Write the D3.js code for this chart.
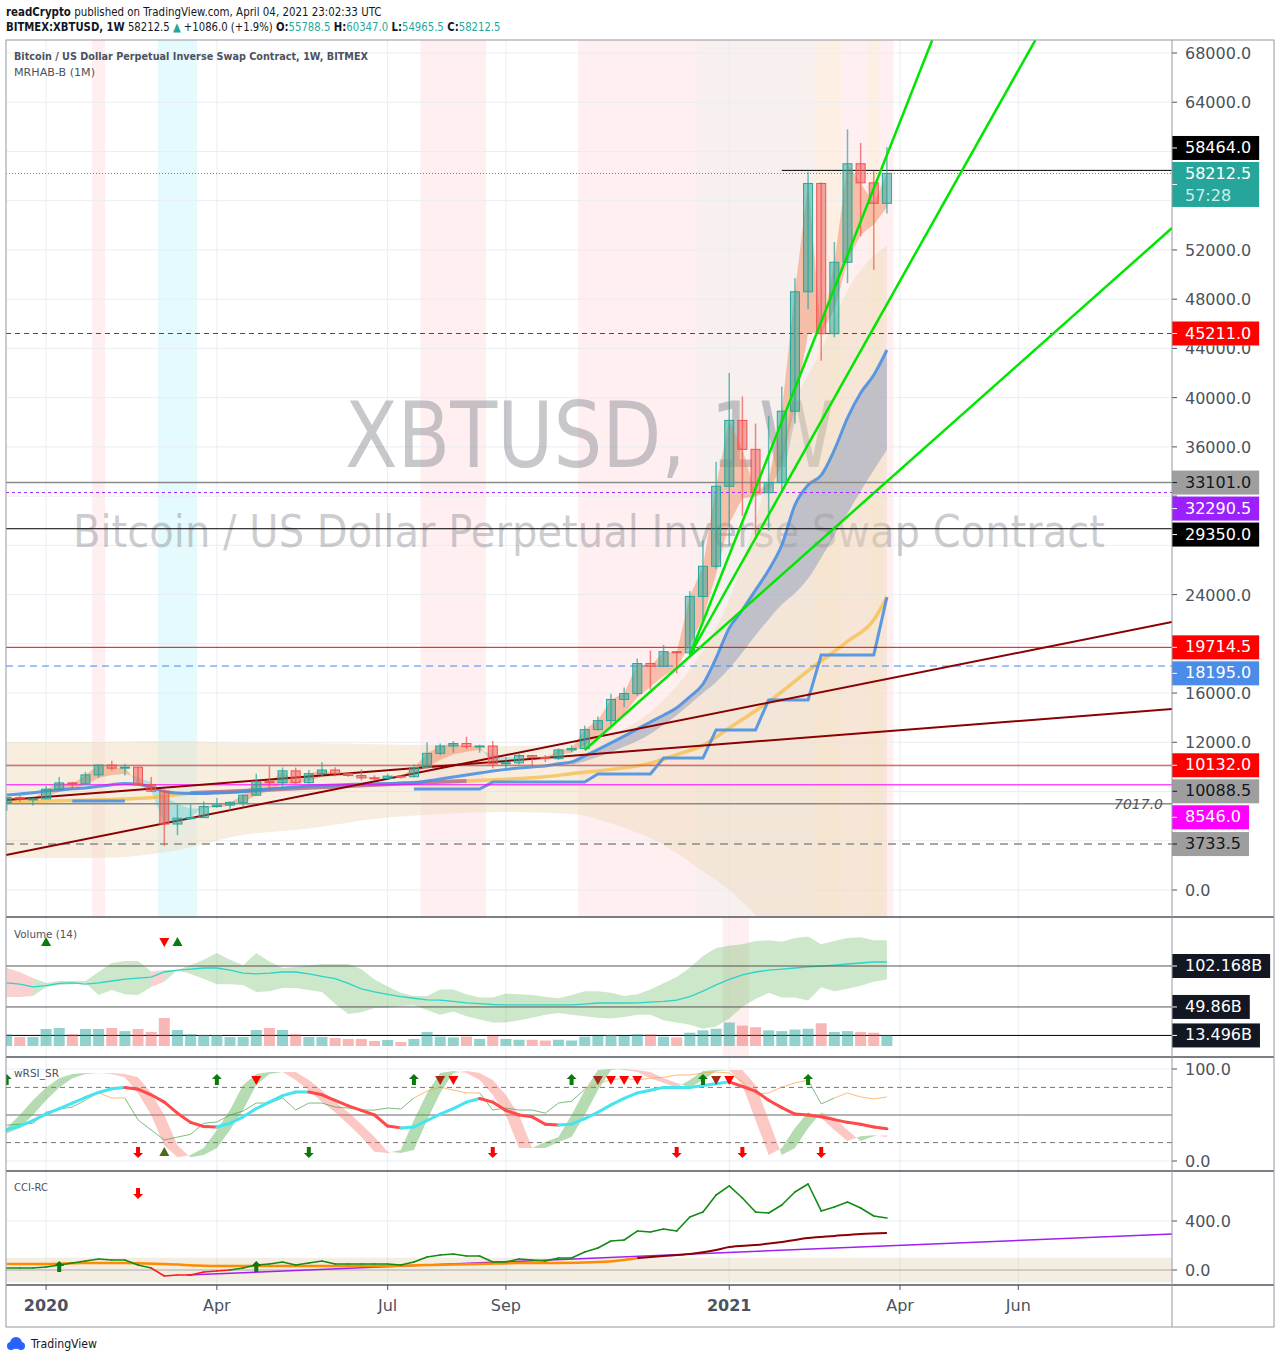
<!DOCTYPE html>
<html><head><meta charset="utf-8">
<script src="https://cdn.jsdelivr.net/npm/d3@7"></script>
<style>
body{margin:0;background:#fff}
svg text{font-family:'DejaVu Sans',sans-serif}
</style></head>
<body><svg id="c" width="1280" height="1361"></svg>
<script>
// ---------------- DATA ----------------
const firstBarDate = '2019-12-16';          // weekly bars, Monday open
const firstIdx = -3;                         // bar index relative to 2020-01-06
const open = [7100,7510,7390,
 7400,8190,8700,8620,9350,10150,9900,9980,8550,8030,
 5360,5830,5880,6780,6900,7120,7700,8800,8720,9680,
 8720,9450,9750,9450,9300,9110,9070,9250,9200,9950,
 11100,11700,11900,11650,11700,10250,10330,10920,10780,10670,
 11380,11500,13030,13760,15480,15960,18400,18180,19360,19275,
 23850,26300,32800,38150,35800,32280,33100,38900,48600,57400,
 45200,51000,59000,57450,55788.5];
const high = [7520,7700,7500,
 8450,9190,8780,9600,10200,10500,10250,10000,9190,8180,
 6950,6950,7200,7470,7200,7750,9450,10050,9950,9950,
 9740,10400,9980,9580,9800,9320,9450,9300,10200,12000,
 11900,12100,12450,11800,12100,10800,11100,10950,10950,11500,
 11750,13350,14100,15950,16450,18800,19450,19900,19420,24300,
 28400,34800,42000,40100,37900,38500,40900,49700,58350,57500,
 52650,61800,60700,58400,60347];
const low = [6430,7150,6860,
 7380,8100,8250,8550,9120,9700,9300,8450,8000,3600,
 4450,5700,5850,6680,6450,6780,7680,8100,8200,8630,
 8650,9200,9250,9200,8900,8950,9050,9050,9150,9900,
 10950,11150,11450,11150,9900,9900,10200,10150,10400,10550,
 11200,11400,12950,13300,14850,15800,16300,18100,17600,19000,
 21900,26100,28000,30400,28800,29200,32300,37900,47200,43000,
 44900,49300,53100,50400,54965.5];
const close = [7510,7390,7400,
 8190,8700,8620,9350,10150,9900,9980,8550,8030,5360,
 5830,5880,6780,6900,7120,7700,8800,8720,9680,8720,
 9450,9750,9450,9300,9110,9070,9250,9200,9950,11100,
 11700,11900,11650,11700,10250,10330,10920,10780,10670,11380,
 11500,13030,13760,15480,15960,18400,18180,19360,19275,23850,
 26300,32800,38150,35800,32280,33100,38900,48600,57400,45200,
 51000,59000,57450,55788.5,58212.5];
const volumeB = [15,11.5,11.5,
 21.7,23,15,21.7,21.7,23,19,21.7,18,35.8,
 20.4,15,14,14,11.5,11.5,20.4,23,20.4,15,
 11.5,11.5,10.2,9,9,6.4,7.7,5,9,18,
 12,11,12,9,13,9,8,8,7,8,
 7,12,13,14,13,15,15,12,11,17,
 20,22,30,26,24,20,19,21,22,29,
 18,19,18,17,13.496];
// fast average used by the MRHAB ribbon
const emaFast = [7200,7300,7330,
 7600,7950,8150,8550,9100,9350,9450,9150,8750,7600,
 7000,6600,6650,6730,6850,7130,7700,8050,8600,8650,
 8900,9180,9270,9280,9220,9170,9200,9200,9450,10000,
 10570,11020,11230,11390,11010,10780,10830,10810,10760,10970,
 11150,11780,12440,13450,14290,15660,16500,17380,18020,19960,
 22070,25650,29800,31800,31960,32340,34530,39200,45260,45240,
 47160,51100,53220,54060,55440];
const blueMA = [7720,7800,7900,
 8040,8130,8220,8290,8420,8560,8650,8600,8350,8000,
 7880,7850,7850,7880,7930,7990,8120,8200,8290,8370,
 8450,8500,8530,8570,8600,8620,8640,8670,8700,8850,
 9020,9180,9340,9500,9660,9800,9910,10000,10080,10250,
 10400,10900,11400,11950,12500,13070,13650,14200,14800,15700,
 16735,18848,21285,22748,24373,26000,28030,31280,32900,33700,
 35750,38350,40380,41840,43870];
const blueLowerIdx = [40,41,42,43,44,45,46,47,48,49,50,51,52,53,54,55,56,57,58,59,60,61,62,63,64];
const blueLower = [10150,10450,10800,11200,11650,12100,12700,13400,14200,15100,16000,16900,18000,19300,20700,22000,23200,24100,25300,27000,28800,30600,32400,34100,35750];
const goldIdx = [-3,0,3,6,9,11,14,17,20,23,26,29,32,35,38,40,43,46,48,50,52,55,58,61,63,64];
const goldVal = [7150,7230,7300,7400,7600,7880,8000,8150,8300,8450,8600,8750,8850,9000,9200,9450,9800,10300,11000,11750,13150,15300,17800,20200,21935,23800];
const goldPurpleRange = [11,32];
const stepSegments = [[2,6,7230],[28,33,8200],[34,41,8770],[42,46,9420],[47,50,10720],[51,54,13000],[55,58,15440],[59,63,19090],[64,64,23800]];
const bbIdx = [-3,4,10,15,20,25,30,35,40,43,47,50,52,54,56,59,61,64];
const bbUpper = [12020,12020,12100,11950,11940,11850,11780,11700,11860,12590,15440,19500,23560,30050,37360,43860,48730,52390];
const bbLower = [2600,2600,3250,4460,5000,5770,6170,6340,6170,5400,3650,1500,0,-2000,-4000,-7000,-9000,-12000];
const trendLines = [[[-3.05,2843],[85.7,21773]],[[-3.05,7312],[85.7,14705]]];
const fanLines = [[[41.0,11374],[85.7,53781]],[[49.0,19092],[75.3,69055]],[[49.0,19092],[67.45,69055]]];
// background highlight bands [fromBar, toBar, kind]
const bgBands = [[4,4,'bear'],[9,11,'bull'],[29,33,'bear'],[41,49,'bear'],[50,58,'bear2'],[59,60,'warm'],[61,62,'bear'],[63,63,'warm'],[64,64,'bear']];
const volBgBands = [[52,53,'bear']];
// horizontal levels: price, colour, dash, startBar, label bg, label fg
const levelPrice = [58464.0,45211.0,33101.0,32290.5,29350.0,19714.5,18195.0,10132.0,10088.5,8546.0,3733.5];
const levelColor = ['#000000','#ff0000','#8a8a8a','#9c27ff','#000000','#ff0000','#4a86e8','#ff0000','#9e9e9e','#ff00ff','#8a8a8a'];
const levelDash  = [null,'5,4',null,'3,3',null,null,'7,5',null,null,null,'8,6'];
const levelStart = [56,null,null,null,null,null,null,null,null,null,null];
const levelLabelBg = ['#000000','#ff0000','#9e9e9e','#9b1fff','#000000','#ff0000','#4a8ce8','#ff0000','#9e9e9e','#ff00ff','#9e9e9e'];
const levelLabelFg = ['#fff','#fff','#131722','#fff','#fff','#fff','#fff','#fff','#131722','#fff','#131722'];
const plainLevel = 7017.0;
const priceTicks = d3.range(0,68001,4000);
const lastPrice = 58212.5, countdown = '57:28';
// volume pane
const volCyan = [80.5,79,75.4,
 77,80,80.5,79,80.5,83,85.5,86.8,88,94.5,
 97,98.3,99.6,99.6,97,93,92,93,94.5,94.5,
 92,89,86,80,73,69,66,63,61,59,
 58.7,57,55,54,53,52.4,52.4,52.4,52.4,52.4,
 52.4,53.6,54.9,54.9,54.9,55,56,57,58.7,63,
 70,78,85,90.7,94.5,97,98.3,99.6,101,102.1,
 103.4,104.7,106,107.3,107.3];
const volHi = [99.6,94.5,87,
 80.5,83,83,83,94.5,106,108.6,108.6,95,97,
 97,103,110,118.8,110,103,118.8,108,99.6,101,
 103,104.7,104.7,104.7,98,85,76,68,64,64,
 72,72,66,62,62,67,66,65,63,61,
 65,70,70,68,64,66,72,80,88,100,
 115,125,128,130,134,135,133,138,140,130,
 134,138,139,135,135];
const volLo = [62.6,62.6,63.9,
 75.4,78,79,80.5,65,71.5,66,65,75.4,82,
 97,92,86,79,79,78,69,70,74,74,
 71.5,69,54,40.9,43,48.5,49,51,52,46,
 40,44,38,34,30,30,33,36,40,42,
 40,38,36,35,37,40,40,33,30,27,
 22,25,35,50,60,68,62,62,58,75,
 70,73,77,82,85];
const volBearBars = [-3,-2,-1,8,9];
const volLevels = [102.168,49.86,13.496];
const volLevelText = ['102.168B','49.86B','13.496B'];
const volMarkers = [[0,'triUp','#0b7a0b'],[9,'triDown','#ff0000'],[10,'triUp','#0b7a0b']];
// wRSI_SR pane
const rsiMain = [34,38,44,
 51,57,63,69,74.5,78.5,80,78,72,64,
 52,42,37.5,37,41,48,57,64,71,75,
 75,72,66,60,55,50,38,36,37,44,
 51,57,64,68,64,55,50,48,40,39,
 40,46,53,61,68,74,77,80,80,80,
 82,84,86,81,76,66,58,51,50,48,
 45,42,40,37,35];
const rsiThin = [39,40,41,
 53,56.5,58.7,66,74,68.5,68.5,44.6,33.7,22.8,
 26,29,41,42.4,50,54.3,63,63,68.5,55.4,
 63,63,58.7,57.6,55.4,55.4,57.6,56.5,68.5,76,
 80.4,77,74,74,55.4,57.6,55.4,55.4,52,63,
 65,78,84.8,88,90,88,90,91,93.5,93.5,
 95.7,96.7,95.7,86,72.8,74,80.4,84.8,88,62,
 68.5,74,69.6,67.4,69.6];
const rsiRibbon = [36,50,66,
 80,90,94.5,95.6,95.6,94.5,91,74,50,17,
 4,6.5,14,33.7,55.4,82.6,94.5,96.7,96.7,88,
 77,64,53,40,26,10,8.7,12,44.6,74,
 95.6,97.8,95.6,88,71.7,50,14,14,20.6,26,
 50,77,99,100,99,96.7,90,84.8,80,88,
 97.8,99,99,82.6,44.6,6.5,14,36,53,46.7,
 33.7,21.7,27,28,26];
const rsiLevels = [80,50,20];
const rsiTopMarkers = [[-3,'arrowUp','#0b7a0b'],[13,'arrowUp','#0b7a0b'],[16,'triDown','#ff0000'],[28,'arrowUp','#0b7a0b'],[30,'triDown','#a52a1a'],[31,'triDown','#ff0000'],[40,'arrowUp','#0b7a0b'],[42,'triDown','#a52a1a'],[43,'triDown','#ff0000'],[44,'triDown','#ff0000'],[45,'triDown','#ff0000'],[50,'arrowUp','#0b7a0b'],[51,'triDown','#a52a1a'],[52,'triDown','#ff0000'],[58,'arrowUp','#0b7a0b']];
const rsiBottomMarkers = [[7,'arrowDown','#ff0000'],[9,'triUp','#4b6b1f'],[20,'arrowDown','#0b7a0b'],[34,'arrowDown','#ff0000'],[48,'arrowDown','#ff0000'],[53,'arrowDown','#ff0000'],[59,'arrowDown','#ff0000']];
// CCI-RC pane
const cciLine = [16,16,16,
 24,41,57,73,90,82,82,41,16,-49,
 -41,-41,-16,-8,0,16,41,49,65,41,
 57,73,49,49,49,49,49,41,65,106,
 122,131,114,114,65,65,90,82,73,98,
 98,147,180,237,245,318,310,335,318,433,
 473,612,686,588,473,465,531,637,702,482,
 514,555,506,441,424];
const cciMAIdx = [-3,0,3,6,9,13,17,21,25,29,33,36,39,42,44,45,47,49,51,52,54,56,58,60,62,64];
const cciMAVal = [49,49,57,57,49,33,33,33,33,41,49,57,57,65,82,98,114,131,163,188,204,229,261,278,294,302];
const cciMAColorSwitch = 45;
const cciTrend = [[10.73,-41],[85.7,294]];
const cciBand = [-100,100];
const cciMarkers = [[7,'arrowDown','#ff0000','top'],[1,'arrowUp','#0b7a0b','line'],[16,'arrowUp','#0b7a0b','line']];
// time axis
const tickDates = ['2020-01-06','2020-04-06','2020-07-06','2020-09-07','2021-01-04','2021-04-05','2021-06-07'];
const tickLabels = ['2020','Apr','Jul','Sep','2021','Apr','Jun'];
const tickIsYear = [true,false,false,false,true,false,false];

// ---------------- LAYOUT ----------------
const svg = d3.select('#c');
const L = 6, R = 1172, RA = 1274, TOP = 40, BOT = 1327;
const panes = {main:[40,917], vol:[917,1057], rsi:[1057,1171], cci:[1171,1285]};
const N = close.length;
const bars = d3.range(N).map(k => firstIdx + k);
const x = d3.scaleLinear().domain([-3.05, 85.7]).range([L, R]);
const yP = d3.scaleLinear().domain([0, 68000]).range([890, 53]);
const yV = d3.scaleLinear().domain([0, 102.168]).range([1046, 966]);
const yR = d3.scaleLinear().domain([0, 100]).range([1161, 1069]);
const yC = d3.scaleLinear().domain([0, 400]).range([1270, 1221]);
const TXT = '#4c525e', GRID = '#e8eef3';
const weekMs = 7*864e5, base = Date.parse('2020-01-06');
const tickIdx = tickDates.map(d => Math.round((Date.parse(d) - base)/weekMs));
const hf = 'Liberation Sans, sans-serif';

svg.append('rect').attr('width',1280).attr('height',1361).attr('fill','#fff');
const defs = svg.append('defs');
Object.entries(panes).forEach(([k,[a,b]]) => {
  defs.append('clipPath').attr('id','clip-'+k).append('rect').attr('x',L).attr('y',a).attr('width',R-L).attr('height',b-a);
});
function pane(k){ return svg.append('g').attr('clip-path',`url(#clip-${k})`); }

function fillBetween(g, xs, a, b, ys, colorFn){
  const runs = []; let run = null;
  for (let i=0;i<xs.length;i++){
    if (a[i]==null || b[i]==null){ if(run){runs.push(run); run=null;} continue; }
    const s = (a[i]-b[i]) >= 0 ? 1 : -1;
    if (!run){ run = {s, A:[[xs[i],a[i]]], B:[[xs[i],b[i]]]}; continue; }
    if (s === run.s){ run.A.push([xs[i],a[i]]); run.B.push([xs[i],b[i]]); }
    else {
      const j=i-1, d0=a[j]-b[j], d1=a[i]-b[i], t=d0/(d0-d1);
      const xc = xs[j]+t*(xs[i]-xs[j]), vc = a[j]+t*(a[i]-a[j]);
      run.A.push([xc,vc]); run.B.push([xc,vc]); runs.push(run);
      run = {s, A:[[xc,vc],[xs[i],a[i]]], B:[[xc,vc],[xs[i],b[i]]]};
    }
  }
  if (run) runs.push(run);
  runs.forEach(r => {
    const pts = r.A.concat(r.B.slice().reverse());
    g.append('path').attr('d','M'+pts.map(p=>x(p[0]).toFixed(1)+','+ys(p[1]).toFixed(1)).join('L')+'Z')
      .attr('fill', colorFn(r.s));
  });
}
function drawMarker(g, type, cx, cy, color){
  let d;
  if (type==='triDown') d=`M${cx-5},${cy-4}L${cx+5},${cy-4}L${cx},${cy+5}Z`;
  else if (type==='triUp') d=`M${cx-5},${cy+4}L${cx+5},${cy+4}L${cx},${cy-5}Z`;
  else if (type==='arrowUp') d=`M${cx},${cy-6}L${cx+5},${cy-1}L${cx+2},${cy-1}L${cx+2},${cy+5}L${cx-2},${cy+5}L${cx-2},${cy-1}L${cx-5},${cy-1}Z`;
  else d=`M${cx},${cy+6}L${cx+5},${cy+1}L${cx+2},${cy+1}L${cx+2},${cy-5}L${cx-2},${cy-5}L${cx-2},${cy+1}L${cx-5},${cy+1}Z`;
  g.append('path').attr('d',d).attr('fill',color);
}
function vGrid(g, a, b){
  tickIdx.forEach(t => g.append('line').attr('x1',x(t)).attr('x2',x(t)).attr('y1',a).attr('y2',b).attr('stroke',GRID).attr('stroke-width',1));
}
function legend(g, y, txt, len, bold){
  g.append('text').attr('x',14).attr('y',y).attr('font-size',11).attr('font-family',hf).attr('fill',TXT)
    .attr('font-weight', bold?'bold':'normal').attr('textLength',len).attr('lengthAdjust','spacingAndGlyphs').text(txt);
}

// ---------------- MAIN PANE ----------------
const gm = pane('main');
const bandColor = {bear:'rgba(255,205,210,0.33)', bear2:'rgba(235,205,205,0.33)', bull:'rgba(180,240,245,0.35)', warm:'rgba(250,215,185,0.4)'};
bgBands.forEach(([f,t,k]) => gm.append('rect').attr('x',x(f-0.5)).attr('width',x(t+0.5)-x(f-0.5)).attr('y',40).attr('height',877).attr('fill',bandColor[k]));
priceTicks.forEach(p => gm.append('line').attr('x1',L).attr('x2',R).attr('y1',yP(p)).attr('y2',yP(p)).attr('stroke',GRID));
vGrid(gm, 40, 917);
gm.append('text').attr('x',590).attr('y',467).attr('text-anchor','middle').attr('font-size',90)
  .attr('textLength',490).attr('lengthAdjust','spacingAndGlyphs').attr('fill','rgba(120,123,134,0.42)').text('XBTUSD, 1W');
gm.append('text').attr('x',589).attr('y',547).attr('text-anchor','middle').attr('font-size',44)
  .attr('textLength',1032).attr('lengthAdjust','spacingAndGlyphs').attr('fill','rgba(120,123,134,0.38)').text('Bitcoin / US Dollar Perpetual Inverse Swap Contract');
gm.append('path').datum(bbIdx.map((d,i)=>({i:d,u:bbUpper[i],l:bbLower[i]})))
  .attr('d', d3.area().x(d=>x(d.i)).y0(d=>yP(d.l)).y1(d=>yP(d.u)).curve(d3.curveMonotoneX))
  .attr('fill','rgba(236,214,180,0.42)');
gm.append('path').datum(blueLowerIdx.map((d,i)=>({i:d,u:blueMA[d-firstIdx],l:blueLower[i]})))
  .attr('d', d3.area().x(d=>x(d.i)).y0(d=>yP(d.l)).y1(d=>yP(d.u)).curve(d3.curveMonotoneX))
  .attr('fill','rgba(80,115,170,0.32)');
fillBetween(gm, bars, close, emaFast, yP, s => s>0 ? 'rgba(240,130,85,0.45)' : 'rgba(100,210,225,0.45)');
const goldPts = goldIdx.map((d,i)=>[d,goldVal[i]]);
const lineP = d3.line().x(d=>x(d[0])).y(d=>yP(d[1])).curve(d3.curveMonotoneX);
gm.append('path').attr('d',lineP(goldPts)).attr('fill','none').attr('stroke','rgba(246,190,70,0.75)').attr('stroke-width',3.5);
gm.append('path').attr('d',lineP(goldPts.filter(p=>p[0]>=goldPurpleRange[0]&&p[0]<=goldPurpleRange[1]))).attr('fill','none').attr('stroke','rgba(150,80,170,0.6)').attr('stroke-width',4);
const stepVals = bars.map(()=>null);
stepSegments.forEach(([a,b,v]) => { for(let i=a;i<=b;i++) stepVals[i-firstIdx]=v; });
gm.append('path').attr('d', d3.line().defined(d=>d[1]!=null).x(d=>x(d[0])).y(d=>yP(d[1]))(bars.map((b,k)=>[b,stepVals[k]])))
  .attr('fill','none').attr('stroke','#4a90e2').attr('stroke-width',3).attr('stroke-opacity',0.9);
gm.append('path').attr('d', lineP(bars.map((b,k)=>[b,blueMA[k]]))).attr('fill','none').attr('stroke','#4a90e2').attr('stroke-width',3).attr('stroke-opacity',0.9);
levelPrice.forEach((p,i) => {
  const x1 = levelStart[i]==null ? L : x(levelStart[i]);
  gm.append('line').attr('x1',x1).attr('x2',R).attr('y1',yP(p)).attr('y2',yP(p)).attr('stroke',levelColor[i])
    .attr('stroke-width', levelColor[i]==='#8a8a8a'?1.5:1).attr('stroke-dasharray',levelDash[i]);
});
gm.append('line').attr('x1',L).attr('x2',R).attr('y1',yP(plainLevel)).attr('y2',yP(plainLevel)).attr('stroke','#8a8a8a').attr('stroke-width',1.5);
gm.append('text').attr('x',1163).attr('y',yP(plainLevel)+5).attr('text-anchor','end').attr('font-size',14).attr('font-style','italic').attr('fill','#555').text(d3.format('.1f')(plainLevel));
gm.append('line').attr('x1',L).attr('x2',R).attr('y1',yP(lastPrice)).attr('y2',yP(lastPrice)).attr('stroke','#26a69a').attr('stroke-dasharray','1,2');
trendLines.forEach(t => gm.append('line').attr('x1',x(t[0][0])).attr('y1',yP(t[0][1])).attr('x2',x(t[1][0])).attr('y2',yP(t[1][1])).attr('stroke','#8b0000').attr('stroke-width',2));
bars.forEach((b,k) => {
  const up = close[k] >= open[k];
  const col = up ? '#26a69a' : '#ef5350';
  const fill = up ? 'rgba(38,166,154,0.5)' : 'rgba(239,83,80,0.5)';
  const cx = x(b);
  gm.append('line').attr('x1',cx).attr('x2',cx).attr('y1',yP(high[k])).attr('y2',yP(low[k])).attr('stroke',col).attr('stroke-opacity',0.7).attr('stroke-width',1.5);
  const yt = yP(Math.max(open[k],close[k])), yb = yP(Math.min(open[k],close[k]));
  gm.append('rect').attr('x',cx-4.5).attr('width',9).attr('y',yt).attr('height',Math.max(1,yb-yt)).attr('fill',fill).attr('stroke',col).attr('stroke-width',1);
});
fanLines.forEach(t => gm.append('line').attr('x1',x(t[0][0])).attr('y1',yP(t[0][1])).attr('x2',x(t[1][0])).attr('y2',yP(t[1][1])).attr('stroke','#00e600').attr('stroke-width',2.5));
legend(gm, 60, 'Bitcoin / US Dollar Perpetual Inverse Swap Contract, 1W, BITMEX', 354, true);
legend(gm, 76, 'MRHAB-B (1M)', 81, false);

// ---------------- VOLUME PANE ----------------
const gv = pane('vol');
volBgBands.forEach(([f,t,k]) => gv.append('rect').attr('x',x(f-0.5)).attr('width',x(t+0.5)-x(f-0.5)).attr('y',917).attr('height',140).attr('fill',bandColor[k]));
vGrid(gv, 917, 1057);
(function(){
  const runs=[]; let cur=null;
  for(let k=0;k<N-1;k++){
    const bear = volBearBars.includes(bars[k]) && volBearBars.includes(bars[k+1]);
    if(!cur || cur.bear!==bear){ cur={bear,ks:[k]}; runs.push(cur); }
    cur.ks.push(k+1);
  }
  runs.forEach(r => {
    const ks=[...new Set(r.ks)];
    gv.append('path').datum(ks).attr('d', d3.area().x(k=>x(bars[k])).y0(k=>yV(volLo[k])).y1(k=>yV(volHi[k])))
      .attr('fill', r.bear ? 'rgba(244,120,120,0.35)' : 'rgba(110,185,100,0.35)');
  });
})();
gv.append('path').attr('d', d3.line().x((d,k)=>x(bars[k])).y(d=>yV(d))(volCyan)).attr('fill','none').attr('stroke','#2ad4c8').attr('stroke-width',1.3);
volLevels.forEach((v,i)=> gv.append('line').attr('x1',L).attr('x2',R).attr('y1',yV(v)).attr('y2',yV(v)).attr('stroke', i===2?'#000':'#555').attr('stroke-width',1));
bars.forEach((b,k) => {
  const up = close[k] >= open[k];
  gv.append('rect').attr('x',x(b)-5.5).attr('width',11).attr('y',yV(volumeB[k])).attr('height',yV(0)-yV(volumeB[k]))
    .attr('fill', up ? 'rgba(38,166,154,0.5)' : 'rgba(239,83,80,0.42)');
});
volMarkers.forEach(([b,t,c]) => drawMarker(gv,t,x(b),942,c));
legend(gv, 938, 'Volume (14)', 63, false);

// ---------------- wRSI PANE ----------------
const gr = pane('rsi');
vGrid(gr, 1057, 1171);
[0,100].forEach(v => gr.append('line').attr('x1',L).attr('x2',R).attr('y1',yR(v)).attr('y2',yR(v)).attr('stroke',GRID));
rsiLevels.forEach(v => gr.append('line').attr('x1',L).attr('x2',R).attr('y1',yR(v)).attr('y2',yR(v))
  .attr('stroke', v===50 ? '#9a9a9a' : '#777').attr('stroke-width', v===50?1.5:1).attr('stroke-dasharray', v===50?null:'5,4'));
const ribPrev = rsiRibbon.map((v,k)=> k===0 ? v-6 : rsiRibbon[k-1]);
fillBetween(gr, bars, rsiRibbon, ribPrev, yR, s => s>0 ? 'rgba(90,175,80,0.45)' : 'rgba(245,110,100,0.38)');
for(let k=0;k<N-1;k++){
  const orange = rsiThin[k] >= 66 && rsiThin[k+1] >= 66;
  gr.append('line').attr('x1',x(bars[k])).attr('y1',yR(rsiThin[k])).attr('x2',x(bars[k+1])).attr('y2',yR(rsiThin[k+1]))
    .attr('stroke', orange ? 'rgba(255,160,60,0.7)' : 'rgba(70,160,70,0.7)').attr('stroke-width',1);
}
const segLine = d3.line().x(d=>x(d[0])).y(d=>yR(d[1])).curve(d3.curveMonotoneX);
for(let k=0;k<N-1;k++){
  const rising = rsiMain[k+1] >= rsiMain[k];
  gr.append('path').attr('d', segLine([[bars[k],rsiMain[k]],[bars[k+1],rsiMain[k+1]]])).attr('fill','none')
    .attr('stroke', rising ? '#44e4f0' : '#ff4a4a').attr('stroke-width',3).attr('stroke-linecap','round');
}
rsiTopMarkers.forEach(([b,t,c]) => drawMarker(gr,t,x(b),1080,c));
rsiBottomMarkers.forEach(([b,t,c]) => drawMarker(gr,t,x(b),1152,c));
legend(gr, 1077, 'wRSI_SR', 45, false);

// ---------------- CCI PANE ----------------
const gc = pane('cci');
vGrid(gc, 1171, 1285);
gc.append('line').attr('x1',L).attr('x2',R).attr('y1',yC(400)).attr('y2',yC(400)).attr('stroke',GRID);
gc.append('rect').attr('x',L).attr('width',R-L).attr('y',yC(cciBand[1])).attr('height',yC(cciBand[0])-yC(cciBand[1])).attr('fill','rgba(215,195,160,0.3)');
gc.append('line').attr('x1',L).attr('x2',R).attr('y1',yC(0)).attr('y2',yC(0)).attr('stroke','#aaa');
gc.append('line').attr('x1',x(cciTrend[0][0])).attr('y1',yC(cciTrend[0][1])).attr('x2',x(cciTrend[1][0])).attr('y2',yC(cciTrend[1][1])).attr('stroke','#a020f0').attr('stroke-width',1.5);
const maPts = cciMAIdx.map((d,i)=>[d,cciMAVal[i]]);
const lineC = d3.line().x(d=>x(d[0])).y(d=>yC(d[1])).curve(d3.curveMonotoneX);
gc.append('path').attr('d', lineC(maPts.filter(p=>p[0]<=cciMAColorSwitch))).attr('fill','none').attr('stroke','#ff8c00').attr('stroke-width',2.5);
gc.append('path').attr('d', lineC(maPts.filter(p=>p[0]>=cciMAColorSwitch))).attr('fill','none').attr('stroke','#8b0000').attr('stroke-width',2);
for(let k=0;k<N-1;k++){
  const neg = cciLine[k] < 0 || cciLine[k+1] < 0;
  gc.append('line').attr('x1',x(bars[k])).attr('y1',yC(cciLine[k])).attr('x2',x(bars[k+1])).attr('y2',yC(cciLine[k+1]))
    .attr('stroke', neg ? '#ff1a1a' : '#138a13').attr('stroke-width',1.6).attr('stroke-linecap','round');
}
cciMarkers.forEach(([b,t,c,pos]) => drawMarker(gc,t,x(b), pos==='top'?1193:yC(cciLine[b-firstIdx])+2,c));
legend(gc, 1191, 'CCI-RC', 34, false);

// ---------------- AXES / FRAME ----------------
const ga = svg.append('g');
tickIdx.forEach((t,i) => {
  ga.append('line').attr('x1',x(t)).attr('x2',x(t)).attr('y1',1285).attr('y2',1290).attr('stroke','#50535e');
  ga.append('text').attr('x',x(t)).attr('y',1311).attr('text-anchor','middle').attr('font-size',16)
    .attr('font-weight', tickIsYear[i]?'bold':'normal').attr('fill',TXT).text(tickLabels[i]);
});
const f1 = d3.format('.1f');
const LH = 24, GAP = 2;
const curTop = yP(lastPrice) - 11.5, curH = 45;
const lbls = levelPrice.map((p,i)=>({c:yP(p), text:f1(p), bg:levelLabelBg[i], fg:levelLabelFg[i]}));
const above = lbls.filter(l=>l.c < yP(lastPrice)).sort((a,b)=>b.c-a.c);
const below = lbls.filter(l=>l.c >= yP(lastPrice)).sort((a,b)=>a.c-b.c);
let cur = curTop - GAP;
above.forEach(l => { const bot = Math.min(l.c+LH/2, cur); l.top = bot-LH; cur = l.top-GAP; });
cur = curTop + curH + GAP;
below.forEach(l => { const top = Math.max(l.c-LH/2, cur); l.top = top; cur = top+LH+GAP; });
const boxes = lbls.map(l=>[l.top, l.top+LH]).concat([[curTop, curTop+curH]]).concat(volLevels.map(v=>[yV(v)-12, yV(v)+12]));
// fraction of a tick label (y-7..y+7) covered by label boxes (union, small gaps closed)
function hiddenFrac(y){
  let covered = 0;
  for (let yy = y-7; yy < y+7; yy += 0.5){
    if (boxes.some(([a,b]) => yy >= a-GAP && yy <= b+GAP)) covered += 0.5;
  }
  return covered/14;
}
// tick labels are clipped so that only the parts outside the label boxes remain
const clipTicks = defs.append('clipPath').attr('id','clip-ticks');
let lastY = TOP;
boxes.slice().sort((a,b)=>a[0]-b[0]).forEach(([a,b]) => {
  if (a > lastY) clipTicks.append('rect').attr('x',R).attr('y',lastY).attr('width',RA-R).attr('height',a-lastY);
  lastY = Math.max(lastY, b);
});
clipTicks.append('rect').attr('x',R).attr('y',lastY).attr('width',RA-R).attr('height',BOT-lastY);
const gt = ga.append('g').attr('clip-path','url(#clip-ticks)');
function tickLabel(y, txt){
  ga.append('line').attr('x1',R).attr('x2',R+5).attr('y1',y).attr('y2',y).attr('stroke','#50535e');
  if (hiddenFrac(y) > 0.5) return;
  gt.append('text').attr('x',1185).attr('y',y+6).attr('font-size',16).attr('fill',TXT).text(txt);
}
priceTicks.forEach(p => tickLabel(yP(p), f1(p)));
tickLabel(yR(100), '100.0'); tickLabel(yR(0), '0.0');
tickLabel(yC(400), '400.0'); tickLabel(yC(0), '0.0');
function labelBox(top, h, lines, bg){
  const g = ga.append('g');
  const r = g.append('rect').attr('x',R).attr('y',top).attr('height',h).attr('fill',bg);
  let w = 0;
  lines.forEach((ln,i) => {
    const t = g.append('text').attr('x',1185).attr('y',top+17+i*22).attr('font-size',16).attr('fill',ln.fg).text(ln.text);
    w = Math.max(w, t.node().getComputedTextLength());
  });
  r.attr('width', w+21);
  ga.append('line').attr('x1',R).attr('x2',R+5).attr('y1',top+h/2).attr('y2',top+h/2).attr('stroke',lines[0].fg);
}
lbls.forEach(l => labelBox(l.top, LH, [{text:l.text, fg:l.fg}], l.bg));
labelBox(curTop, curH, [{text:f1(lastPrice), fg:'#fff'},{text:countdown, fg:'rgba(255,255,255,0.8)'}], '#26a69a');
volLevels.forEach((v,i) => labelBox(yV(v)-12, LH, [{text:volLevelText[i], fg:'#fff'}], '#131722'));

[917,1057,1171,1285].forEach(y => ga.append('line').attr('x1',L).attr('x2',RA).attr('y1',y).attr('y2',y).attr('stroke','#50535e').attr('stroke-width',1.5));
ga.append('line').attr('x1',R).attr('x2',R).attr('y1',TOP).attr('y2',BOT).attr('stroke','#9598a1');
ga.append('rect').attr('x',L).attr('y',TOP).attr('width',RA-L).attr('height',BOT-TOP).attr('fill','none').attr('stroke','#9598a1');

// header: natural tspans, horizontally scaled to the reference width
function headerLine(y, targetW, build){
  const g = svg.append('g');
  const t = g.append('text').attr('x',0).attr('y',0).attr('font-size',12).attr('font-family',hf).attr('fill','#131722');
  build(t);
  const w = t.node().getComputedTextLength();
  g.attr('transform',`translate(6,${y}) scale(${(targetW/w).toFixed(4)},1)`);
}
const teal = '#26a69a', last = N-1;
headerLine(16, 376, t => {
  t.append('tspan').attr('font-weight','bold').text('readCrypto');
  t.append('tspan').text(' published on TradingView.com, April 04, 2021 23:02:33 UTC');
});
headerLine(31, 495, t => {
  t.append('tspan').attr('font-weight','bold').text('BITMEX:XBTUSD, 1W');
  t.append('tspan').text('  '+f1(close[last])+' ');
  t.append('tspan').attr('fill',teal).text('▲');
  t.append('tspan').text(' +1086.0 (+1.9%) ');
  [['O:',open[last]],['H:',high[last]],['L:',low[last]],['C:',close[last]]].forEach(([k,v],i)=>{
    t.append('tspan').attr('font-weight','bold').text((i?' ':'')+k);
    t.append('tspan').attr('fill',teal).text(f1(v));
  });
});
const lg = svg.append('g');
lg.append('circle').attr('cx',16).attr('cy',1343).attr('r',6).attr('fill','#2962ff');
lg.append('circle').attr('cx',11).attr('cy',1346).attr('r',4).attr('fill','#2962ff');
lg.append('circle').attr('cx',21).attr('cy',1346).attr('r',4).attr('fill','#2962ff');
lg.append('text').attr('x',31).attr('y',1348).attr('font-size',12).attr('font-family',hf).attr('fill','#131722')
  .attr('textLength',66).attr('lengthAdjust','spacingAndGlyphs').text('TradingView');
</script></body></html>
